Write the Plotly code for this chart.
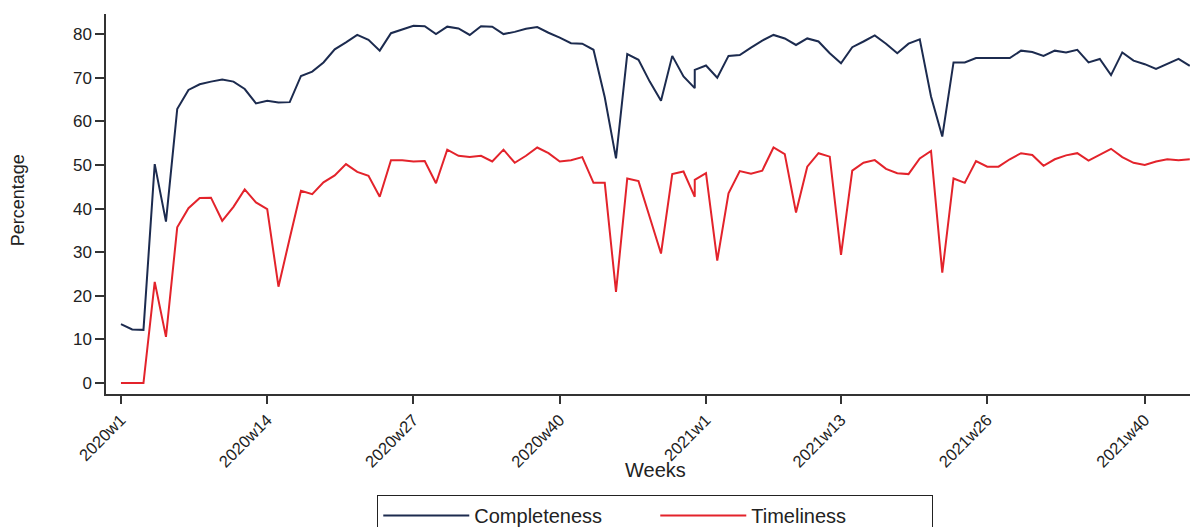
import plotly.graph_objects as go

# ---- data ----
weeks_2020 = [f"2020w{w}" for w in range(1, 54)]
weeks_2021 = [f"2021w{w}" for w in range(1, 45)]
week_labels = weeks_2020 + weeks_2021

completeness = [
    13.5, 12.3, 12.2, 50.2, 37.0, 62.8, 67.2, 68.5, 69.1, 69.6,
    69.1, 67.4, 64.1, 64.7, 64.3, 64.4, 70.4, 71.4, 73.5, 76.5,
    78.1, 79.8, 78.7, 76.2, 80.2, 81.0, 81.9, 81.8, 80.0, 81.7,
    81.3, 79.8, 81.8, 81.7, 80.0, 80.5, 81.2, 81.6, 80.3, 79.2,
    77.9, 77.8, 76.4, 65.5, 51.5, 75.4, 74.1, 69.1, 64.7, 75.0,
    70.3, 67.6, 71.8,
    72.8, 70.0, 75.0, 75.2, 76.9, 78.5, 79.8, 79.0, 77.5, 79.0,
    78.3, 75.6, 73.3, 77.0, 78.3, 79.7, 77.8, 75.6, 77.8, 78.8,
    65.7, 56.5, 73.5, 73.5, 74.5, 74.5, 74.5, 74.5, 76.2, 75.9,
    75.0, 76.2, 75.8, 76.4, 73.5, 74.3, 70.6, 75.8, 73.9, 73.1,
    72.0, 73.2, 74.3, 72.7,
]

timeliness = [
    0.0, 0.0, 0.0, 23.2, 10.6, 35.7, 40.1, 42.4, 42.5, 37.2,
    40.4, 44.4, 41.4, 39.9, 22.1, 33.2, 44.1, 43.3, 46.0, 47.6,
    50.2, 48.4, 47.5, 42.7, 51.1, 51.1, 50.8, 50.9, 45.8, 53.5,
    52.1, 51.8, 52.1, 50.8, 53.5, 50.5, 52.1, 54.0, 52.7, 50.8,
    51.1, 51.8, 45.9, 45.9, 20.9, 46.9, 46.3, 38.0, 29.7, 47.9,
    48.5, 42.7, 46.6,
    48.1, 28.1, 43.5, 48.6, 48.0, 48.7, 54.0, 52.5, 39.1, 49.6,
    52.7, 51.9, 29.4, 48.7, 50.5, 51.1, 49.1, 48.1, 47.9, 51.5,
    53.2, 25.3, 46.9, 45.9, 50.9, 49.6, 49.6, 51.3, 52.7, 52.3,
    49.8, 51.3, 52.2, 52.7, 51.0, 52.3, 53.7, 51.8, 50.5, 50.0,
    50.8, 51.3, 51.1, 51.3,
]

tick_labels = ["2020w1", "2020w14", "2020w27", "2020w40",
               "2021w1", "2021w13", "2021w26", "2021w40"]
y_ticks = [0, 10, 20, 30, 40, 50, 60, 70, 80]


def week_pos(label):
    # weekly index with 52 weeks per year (week 53 folded into week 52)
    year, w = label.split("w")
    w = int(w)
    base = (int(year) - 2020) * 52
    return base + min(w, 52) - 1


x = [week_pos(l) for l in week_labels]
tick_vals = [week_pos(l) for l in tick_labels]

NAVY = "#1c2b4f"
RED = "#e3232b"
AXIS = "#333333"
TXT = "#222222"
FONT = "Liberation Sans, Arial, sans-serif"

fig = go.Figure()
fig.add_trace(go.Scatter(x=x, y=completeness, mode="lines", name="Completeness",
                         line=dict(color=NAVY, width=2), customdata=week_labels,
                         hovertemplate="%{customdata}: %{y}<extra></extra>"))
fig.add_trace(go.Scatter(x=x, y=timeliness, mode="lines", name="Timeliness",
                         line=dict(color=RED, width=2), customdata=week_labels,
                         hovertemplate="%{customdata}: %{y}<extra></extra>"))

fig.update_layout(
    width=1190, height=519,
    margin=dict(l=98, r=0, t=6, b=133, autoexpand=False),
    paper_bgcolor="white", plot_bgcolor="white",
    font=dict(family=FONT, color=TXT, size=16),
    showlegend=True,
    legend=dict(
        orientation="h", x=0.503, xanchor="center", y=-0.266, yanchor="top",
        bordercolor=TXT, borderwidth=1, bgcolor="white",
        font=dict(size=20, family=FONT, color=TXT),
        entrywidth=176, entrywidthmode="pixels", itemwidth=86,
    ),
    xaxis=dict(
        range=[-1.33, 95.73], showgrid=False, zeroline=False,
        showline=True, linecolor=AXIS, linewidth=1.5,
        ticks="outside", ticklen=8, tickwidth=1.5, tickcolor=AXIS,
        tickvals=tick_vals, ticktext=tick_labels, tickangle=-45,
        tickfont=dict(size=16.5, family=FONT, color=TXT),
        automargin=False,
    ),
    yaxis=dict(
        range=[-2.5, 84.6], showgrid=False, zeroline=False,
        showline=True, linecolor=AXIS, linewidth=1.5,
        ticks="outside", ticklen=9, tickwidth=1.5, tickcolor=AXIS,
        tickvals=y_ticks,
        tickfont=dict(size=17, family=FONT, color=TXT),
        automargin=False,
    ),
    annotations=[
        dict(text="Weeks", xref="paper", yref="paper", x=0.503, y=-0.2,
             xanchor="center", yanchor="middle", showarrow=False,
             font=dict(size=20, family=FONT, color=TXT)),
        dict(text="Percentage", xref="paper", yref="paper", x=-0.0806, y=0.51,
             xanchor="center", yanchor="middle", textangle=-90, showarrow=False,
             font=dict(size=18, family=FONT, color=TXT)),
    ],
)

# faint outer frame line at far left, as in the reference
fig.add_shape(type="line", xref="paper", yref="paper",
              x0=-0.0925, x1=-0.0925, y0=-0.35, y1=1.04,
              line=dict(color="#e8e8e8", width=1))

fig.write_html("out.html")
